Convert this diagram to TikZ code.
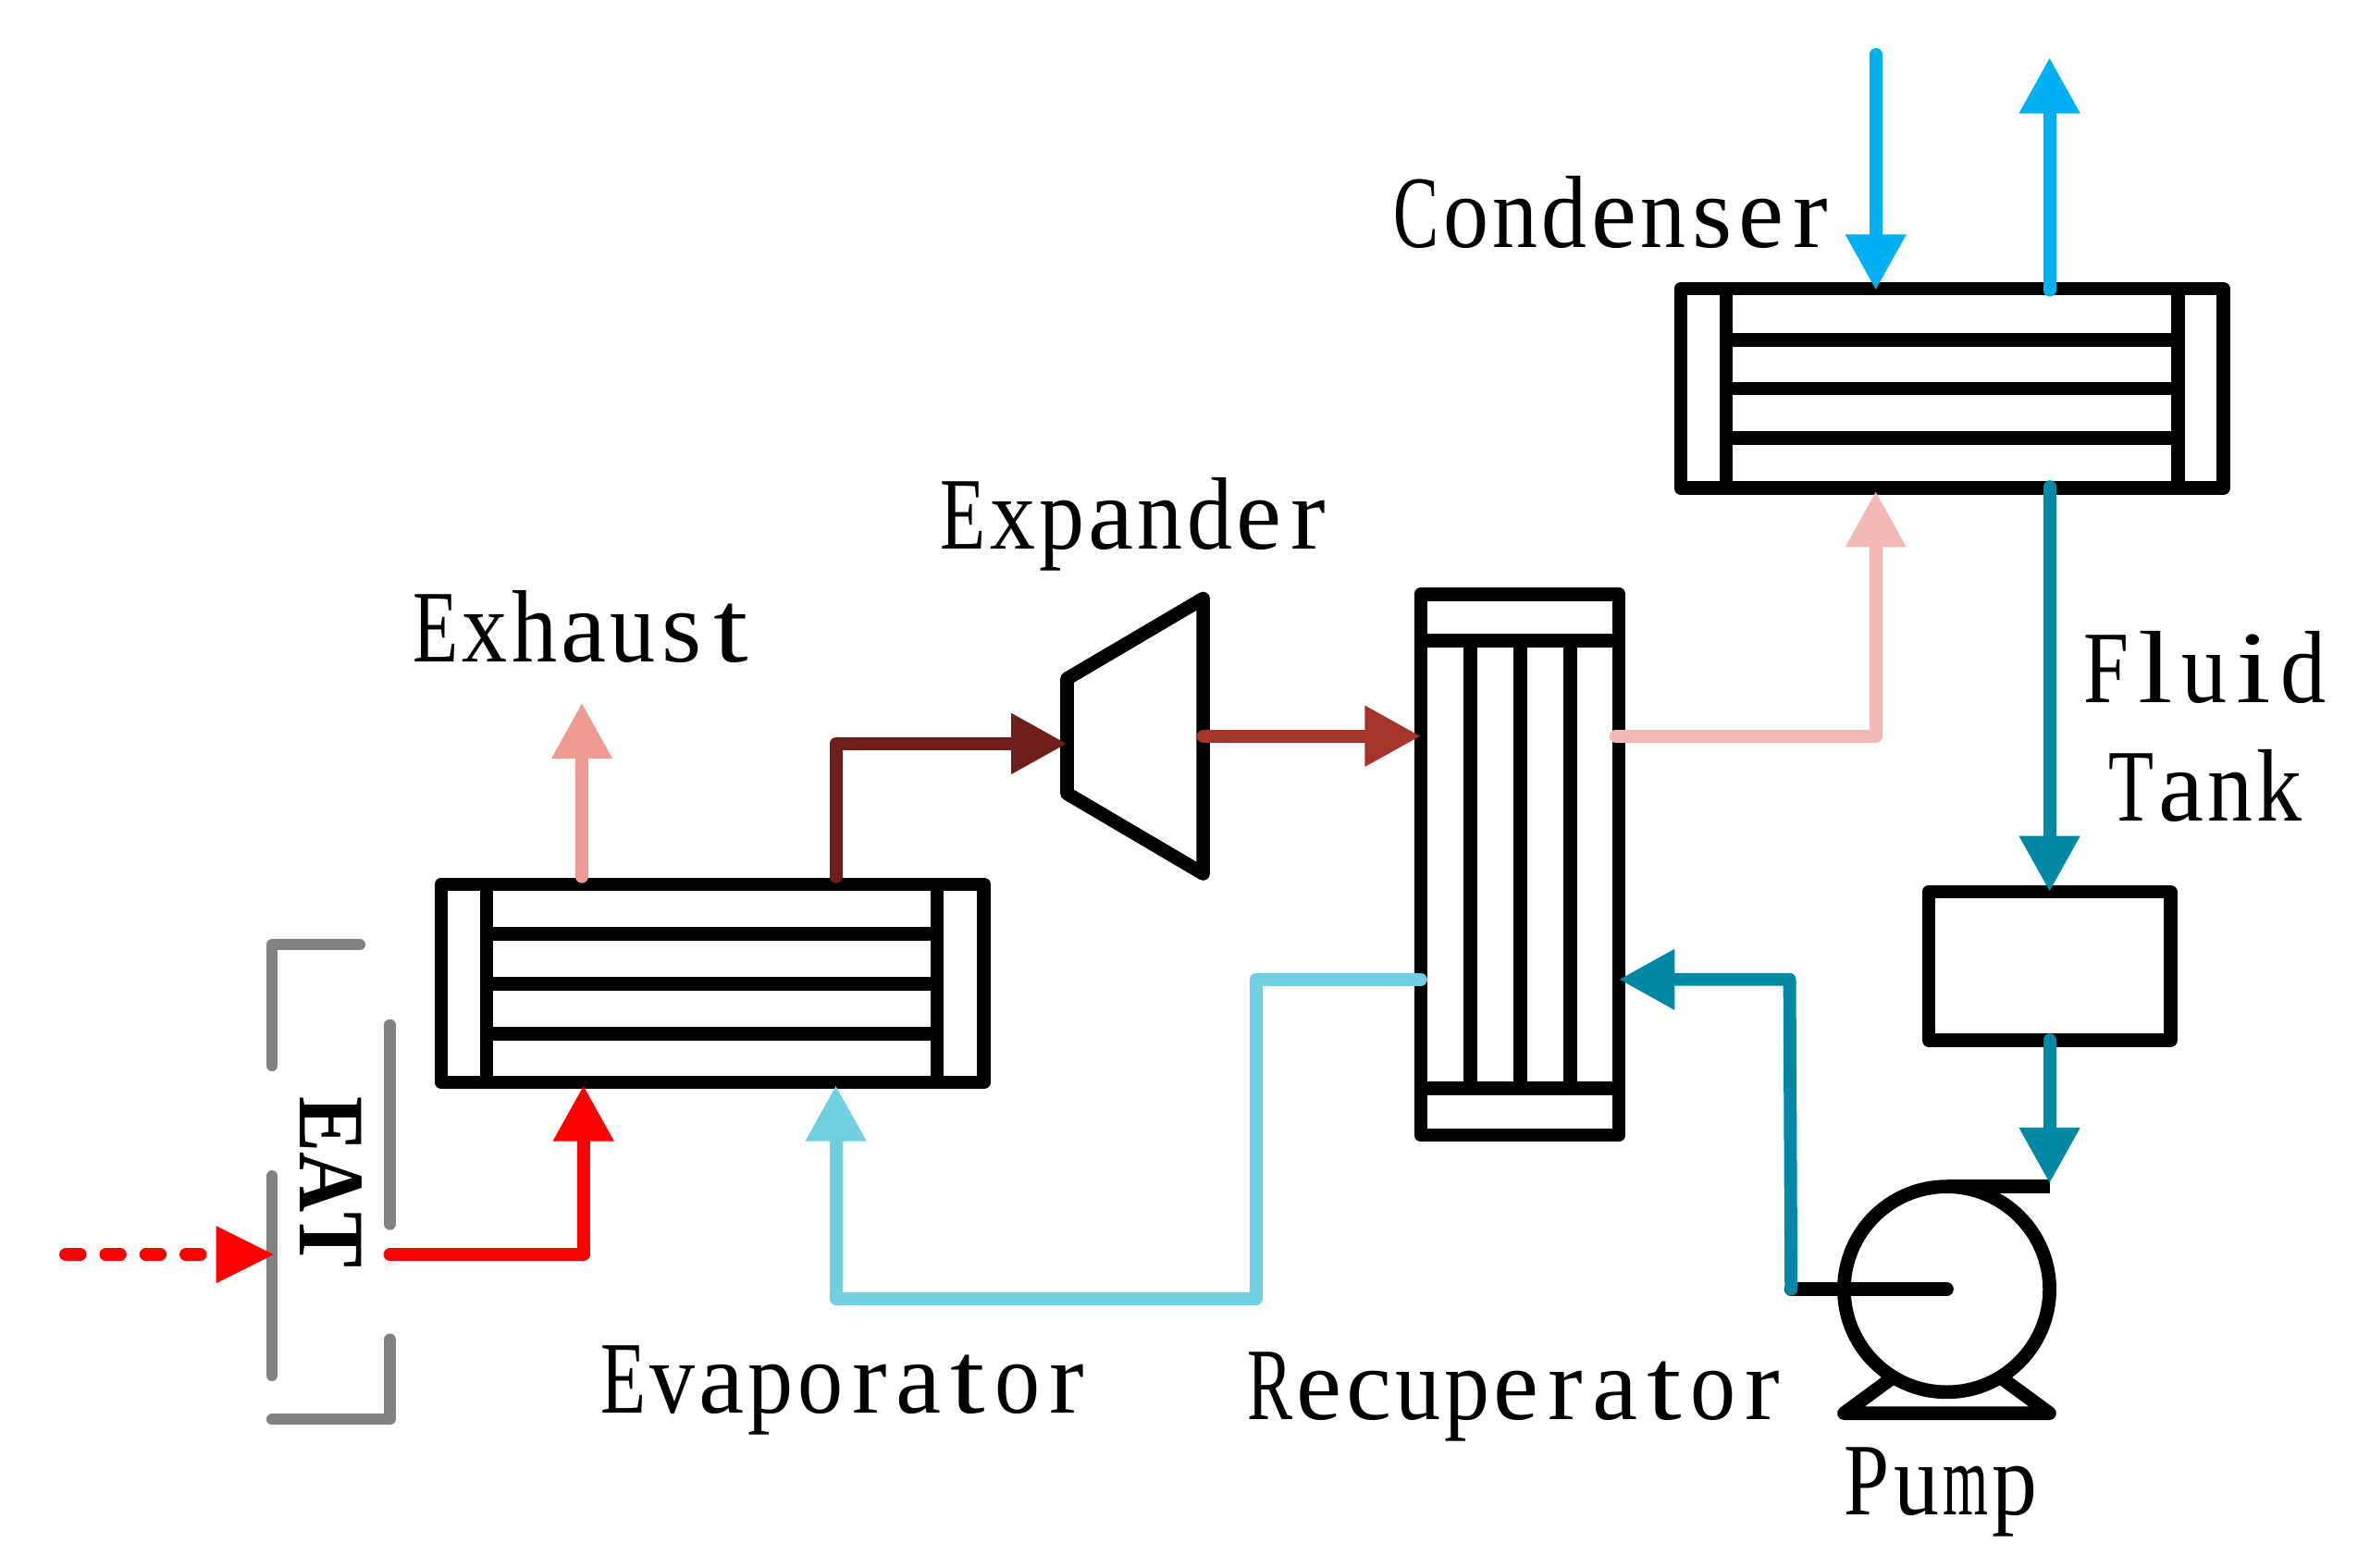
\documentclass[tikz,border=0pt]{standalone}
\usepackage{fontspec}
\usepackage{graphicx}
\setmainfont{Liberation Serif}
\usetikzlibrary{arrows.meta,calc}
\definecolor{cExh}{HTML}{EF9A93}
\definecolor{cDark}{HTML}{6F1F1A}
\definecolor{cMid}{HTML}{A5352B}
\definecolor{cPink}{HTML}{F4B9B4}
\definecolor{cSky}{HTML}{00B0F0}
\definecolor{cTeal}{HTML}{0088A4}
\definecolor{cLight}{HTML}{70CFE0}
\definecolor{cGray}{HTML}{828282}
\newsavebox{\cellbox}
\makeatletter
\newcommand{\cellchar}[1]{\sbox{\cellbox}{#1}\makebox[32.6pt]{\ifdim\wd\cellbox>30pt\resizebox{30pt}{\ht\cellbox}{#1}\else\ifdim\wd\cellbox<23pt\resizebox{23pt}{\ht\cellbox}{#1}\else\usebox{\cellbox}\fi\fi}}
\newcommand{\monotext}[1]{\@tfor\mychar:=#1\do{\expandafter\cellchar\expandafter{\mychar}}}
\makeatother
\tikzset{
  x=1pt,y=-1pt,
  unit/.style={draw=black,line width=9pt,line join=round,minimum width=#1,inner sep=0pt,outer sep=0pt},
  part/.style={draw=black,line width=9pt,line cap=butt},
  flow/.style={line width=8.5pt,line join=round,line cap=round,-{Triangle[length=37pt,width=38pt]}},
  plainflow/.style={line width=8.5pt,line join=round,line cap=round},
  casing/.style={draw=cGray,line width=7.5pt,line cap=round,line join=round},
  lab/.style={anchor=base west,inner sep=0pt,outer sep=0pt,font=\fontsize{68}{80}\selectfont},
}
\begin{document}
\begin{tikzpicture}
\useasboundingbox (0,0) rectangle (1568,1036.8);
% equipment
\node[unit=359pt,minimum height=131pt] (evap) at (471.5,650.5) {};
\draw[part] (322,585) -- (322,716);
\draw[part] (620,585) -- (620,716);
\foreach \yy in {618,651,684} \draw[part] (322,\yy) -- (620,\yy);
\node[unit=359pt,minimum height=132pt] (cond) at (1291.5,257) {};
\draw[part] (1142,191) -- (1142,323);
\draw[part] (1441,191) -- (1441,323);
\foreach \yy in {225,257,290} \draw[part] (1142,\yy) -- (1441,\yy);
\node[unit=131pt,minimum height=358pt] (recup) at (1005.5,572) {};
\draw[part] (940,424) -- (1071,424);
\draw[part] (940,720) -- (1071,720);
\foreach \xx in {973,1006,1039} \draw[part] (\xx,424) -- (\xx,720);
\node[unit=160pt,minimum height=98pt] (tank) at (1356,639) {};
\coordinate (expA) at (706,449);
\coordinate (expB) at (796,396);
\coordinate (expC) at (796,578);
\coordinate (expD) at (706,525);
\draw[part,line join=round] (expA) -- (expB) -- (expC) -- (expD) -- cycle;
\node[circle,draw=black,line width=9pt,minimum size=136pt,inner sep=0pt,outer sep=0pt] (pump) at (1288,853) {};
\coordinate (pumpTop) at (1288,785);
\coordinate (pumpOut) at (1356,785);
\coordinate (baseL) at (1220,935);
\coordinate (baseR) at (1356,935);
\coordinate (legL) at (1252,911.5);
\coordinate (legR) at (1324,911.5);
\draw[part,line cap=butt] (pumpTop) -- (pumpOut);
\draw[part,line cap=butt,line join=round] (legL) -- (baseL) -- (baseR) -- (legR);
\coordinate (shaft) at (1185,853);
\draw[part,line cap=round] (shaft) -- (pump.center);
% casing
\coordinate (g1) at (238,625); \coordinate (g2) at (180,625); \coordinate (g3) at (180,705);
\coordinate (g4) at (258,678); \coordinate (g5) at (258,810);
\coordinate (g6) at (180,778); \coordinate (g7) at (180,910);
\coordinate (g8) at (258,886); \coordinate (g9) at (258,939); \coordinate (g10) at (180,939);
\draw[casing] (g1) -- (g2) -- (g3);
\draw[casing] (g4) -- (g5);
\draw[casing] (g6) -- (g7);
\draw[casing] (g8) -- (g9) -- (g10);
% ports
\coordinate (exhIn) at (385,580); \coordinate (exhOut) at (385,465);
\coordinate (evOut) at (553,580); \coordinate (evOutC) at (553,492); \coordinate (expIn) at (706,492);
\coordinate (expOut) at (796,487); \coordinate (recHot) at (940,487);
\coordinate (recHotOut) at (1069,487); \coordinate (pinkC) at (1241,487); \coordinate (condIn) at (1241,325);
\coordinate (cwIn) at (1241,36); \coordinate (cwInEnd) at (1241,192);
\coordinate (cwOutStart) at (1356,192); \coordinate (cwOut) at (1356,38);
\coordinate (condOut) at (1356,322); \coordinate (tankIn) at (1356,590);
\coordinate (tankOut) at (1356,688); \coordinate (pumpIn) at (1356,783);
\coordinate (tealC) at (1184,648); \coordinate (recCold) at (1071,648);
\coordinate (recColdOut) at (940,648); \coordinate (lc1) at (831,648); \coordinate (lc2) at (831,859);
\coordinate (lc3) at (553,859); \coordinate (evIn) at (553,718);
\coordinate (eatOut) at (258,830); \coordinate (redC) at (386,830); \coordinate (evHot) at (386,718);
\coordinate (gasIn) at (43.5,830); \coordinate (eatIn) at (180,830);
% flows
\draw[flow,draw=cExh] (exhIn) -- (exhOut);
\draw[flow,draw=cDark] (evOut) -- (evOutC) -- (expIn);
\draw[flow,draw=cMid] (expOut) -- (recHot);
\draw[flow,draw=cPink] (recHotOut) -- (pinkC) -- (condIn);
\draw[flow,draw=cSky] (cwIn) -- (cwInEnd);
\draw[flow,draw=cSky] (cwOutStart) -- (cwOut);
\draw[flow,draw=cTeal] (condOut) -- (tankIn);
\draw[flow,draw=cTeal] (tankOut) -- (pumpIn);
\draw[flow,draw=cTeal] (shaft) -- (tealC) -- (recCold);
\draw[flow,draw=cLight] (recColdOut) -- (lc1) -- (lc2) -- (lc3) -- (evIn);
\draw[flow,draw=red] (eatOut) -- (redC) -- (evHot);
\coordinate (dashEnd) at (141,830);
\draw[plainflow,draw=red,dash pattern=on 9.5pt off 17pt] (gasIn) -- (dashEnd);
\fill[red] (143,811) -- (181,830) -- (143,849) -- cycle;
% labels
\node[lab] (lExhaust) at (272,438) {\monotext{Exhaust}};
\node[lab] (lExpander) at (621,363) {\monotext{Expander}};
\node[lab] (lCondenser) at (921,164) {\monotext{Condenser}};
\node[lab] (lEvaporator) at (396,935) {\monotext{Evaporator}};
\node[lab] (lRecuperator) at (824,939) {\monotext{Recuperator}};
\node[lab] (lPump) at (1219,1002) {\monotext{Pump}};
\node[lab] (lFluid) at (1377,465) {\monotext{Fluid}};
\node[lab] (lTank) at (1394,543) {\monotext{Tank}};
\node[rotate=-90,inner sep=0pt,font=\fontsize{62}{70}\selectfont\bfseries\addfontfeature{Kerning=Off}] (lEAT) at (219,782) {\scalebox{0.89}[1]{EAT}};
\end{tikzpicture}
\end{document}
